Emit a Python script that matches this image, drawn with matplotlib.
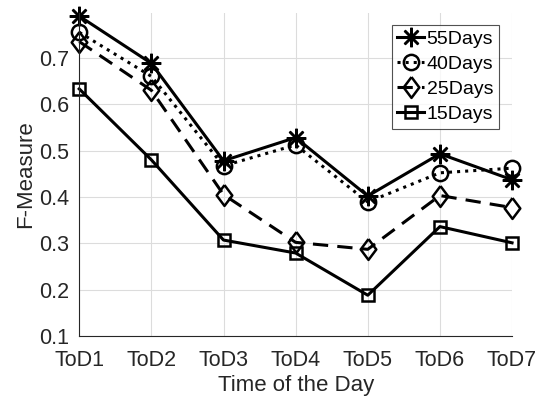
import numpy as np
import matplotlib.pyplot as plt

plt.rcParams['font.family'] = ['Liberation Sans', 'DejaVu Sans']

tod_labels = ['ToD1', 'ToD2', 'ToD3', 'ToD4', 'ToD5', 'ToD6', 'ToD7']
days55 = [0.790, 0.688, 0.478, 0.528, 0.402, 0.493, 0.437]
days40 = [0.755, 0.660, 0.467, 0.512, 0.389, 0.452, 0.462]
days25 = [0.735, 0.630, 0.405, 0.302, 0.287, 0.403, 0.377]
days15 = [0.633, 0.480, 0.307, 0.279, 0.188, 0.336, 0.301]

x = np.arange(1, len(tod_labels) + 1)

# matlab style markers: 8 spoke asterisk and a slightly tall diamond
asterisk = (8, 2, 0)
diamond = [(0, 1), (0.75, 0), (0, -1), (-0.75, 0), (0, 1)]

fig = plt.figure(figsize=(5.39, 4.01), dpi=100)
ax = fig.add_axes([0.147, 0.162, 0.803, 0.806])

common = dict(color='black', linewidth=2.2, markerfacecolor='none',
              markeredgewidth=1.8, clip_on=False)
ax.plot(x, days55, linestyle='-', marker=asterisk, markersize=14, label='55Days', **common)
ax.plot(x, days40, linestyle=':', marker='o', markersize=11, label='40Days', **common)
ax.plot(x, days25, linestyle=(0, (5, 3)), marker=diamond, markersize=15, label='25Days', **common)
ax.plot(x, days15, linestyle='-', marker='s', markersize=9, label='15Days', **common)

ax.set_xlim(1, 7)
ax.set_ylim(0.1, 0.797)
ax.set_xticks(x)
ax.set_xticklabels(tod_labels)
ax.set_yticks([0.1, 0.2, 0.3, 0.4, 0.5, 0.6, 0.7])
ax.set_yticklabels(['0.1', '0.2', '0.3', '0.4', '0.5', '0.6', '0.7'])
ax.tick_params(labelsize=15.5, length=0, colors='#262626')
ax.tick_params(axis='x', pad=10)
ax.tick_params(axis='y', pad=7)
ax.grid(True, color='#dcdcdc', linewidth=0.8)
ax.set_axisbelow(True)
for side in ['top', 'right']:
    ax.spines[side].set_visible(False)
for side in ['left', 'bottom']:
    ax.spines[side].set_color('#262626')
    ax.spines[side].set_linewidth(0.8)

ax.set_xlabel('Time of the Day', fontsize=16, color='#262626', labelpad=3)
ax.set_ylabel('F-Measure', fontsize=16, color='#262626', labelpad=2)

leg = ax.legend(loc='upper right', bbox_to_anchor=(0.97, 0.963), fontsize=14,
                frameon=True, fancybox=False, handlelength=1.35, handletextpad=0.15,
                labelspacing=0.38, borderpad=0.3, borderaxespad=0)
leg.get_frame().set_edgecolor('#262626')
leg.get_frame().set_linewidth(0.8)

fig.savefig('out.png', dpi=100)
